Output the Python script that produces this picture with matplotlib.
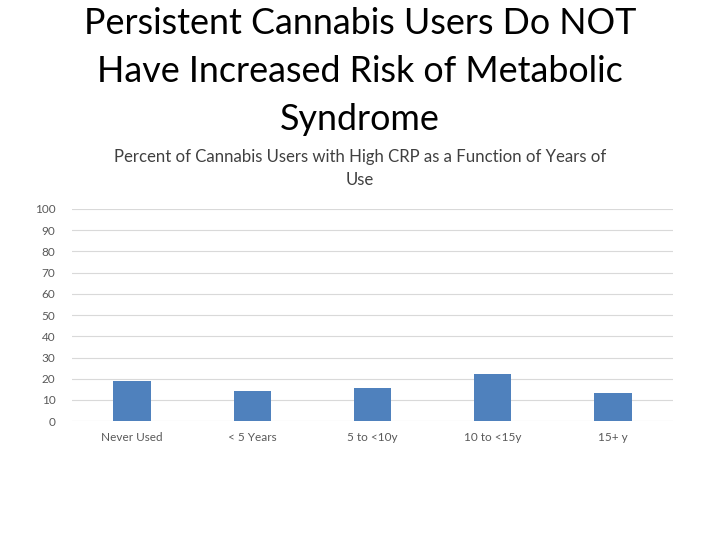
import matplotlib
matplotlib.use("Agg")
import matplotlib.pyplot as plt

# Data
categories = ["Never Used", "< 5 Years", "5 to <10y", "10 to <15y", "15+ y"]
values = [18.8, 14.0, 15.6, 22.4, 13.5]
yticks = [0, 10, 20, 30, 40, 50, 60, 70, 80, 90, 100]

plt.rcParams["font.family"] = ["Lato", "DejaVu Sans"]

fig = plt.figure(figsize=(7.2, 5.4), dpi=100)
ax = fig.add_axes([0.1, 0.22, 0.835, 0.393])

x = range(len(categories))
ax.bar(x, values, width=0.31, color="#4f81bd", zorder=3)

ax.set_ylim(0, 100)
ax.set_xlim(-0.5, len(categories) - 0.5)
ax.set_yticks(yticks)
ax.set_xticks(list(x))
ax.set_xticklabels(categories)
ax.tick_params(axis="both", length=0, labelsize=8.5, colors="#595959")
ax.tick_params(axis="y", pad=12)
ax.tick_params(axis="x", pad=8)
ax.grid(axis="y", color="#d9d9d9", linewidth=0.8, zorder=0)
for s in ax.spines.values():
    s.set_visible(False)

fig.text(0.5, 0.987, "Persistent Cannabis Users Do NOT\nHave Increased Risk of Metabolic\nSyndrome",
         ha="center", va="top", fontsize=25.8, linespacing=1.55, color="black")
fig.text(0.5, 0.724, "Percent of Cannabis Users with High CRP as a Function of Years of\nUse",
         ha="center", va="top", fontsize=12.1, color="#404040", linespacing=1.5)

plt.savefig("out.png", dpi=100)
